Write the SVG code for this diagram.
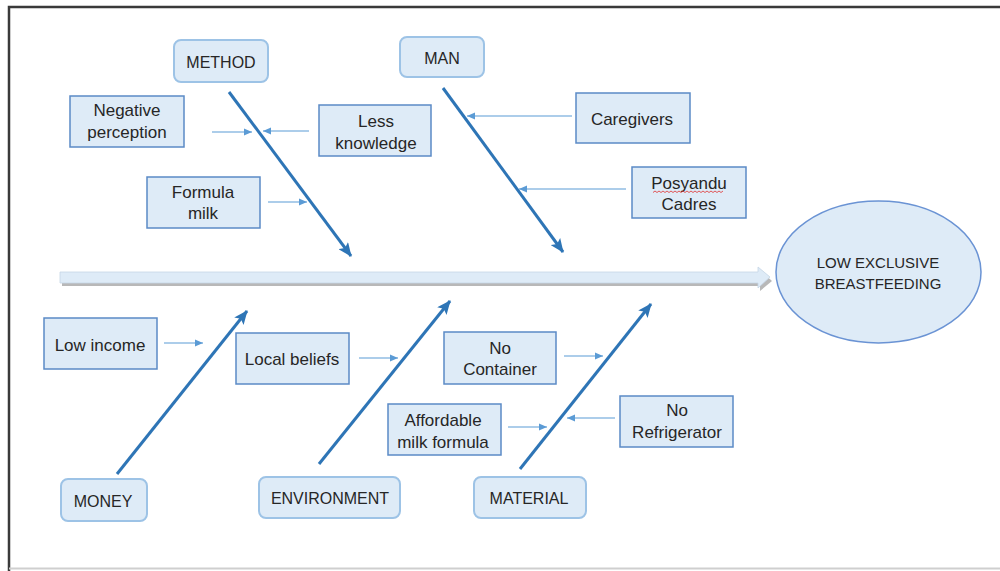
<svg xmlns="http://www.w3.org/2000/svg" width="1000" height="571" viewBox="0 0 1000 571">
<defs>
<marker id="bigHead" markerUnits="userSpaceOnUse" markerWidth="16" markerHeight="12" refX="13" refY="6" orient="auto">
<path d="M0,0 L14,6 L0,12 L3,6 Z" fill="#2e75b6"/>
</marker>
<marker id="smallHead" markerUnits="userSpaceOnUse" markerWidth="9" markerHeight="8" refX="8" refY="4" orient="auto">
<path d="M0,0.5 L8,4 L0,7.5 Z" fill="#5b9bd5"/>
</marker>
</defs>
<style>
.cat rect{fill:#deebf7;stroke:#9dc3e6;stroke-width:2}
.cause rect{fill:#deebf7;stroke:#5b8ac6;stroke-width:1.5}
text{font-family:"Liberation Sans",Arial,sans-serif;fill:#262626;text-anchor:middle}
.cat text{font-size:16px}
.cause text{font-size:17px}
.bone{stroke:#2e75b6;stroke-width:3;fill:none;marker-end:url(#bigHead)}
.sub{stroke:#5b9bd5;stroke-width:1.2;fill:none;marker-end:url(#smallHead)}
</style>
<rect width="1000" height="571" fill="#ffffff"/>
<!-- frame -->
<path d="M9,571 L9,7 L1000,7" fill="none" stroke="#3a3a3a" stroke-width="2.5"/>
<line x1="9" y1="568.5" x2="1000" y2="568.5" stroke="#cfcfcf" stroke-width="2"/>

<!-- spine -->
<g id="spine">
<path d="M62,275 L760,275 L760,270 L772,281 L760,291 L760,286 L62,286 Z" fill="#9a9a9a" opacity="0.7"/>
<path d="M60,272 L758,272 L758,267 L770,277 L758,288 L758,283 L60,283 Z" fill="#deebf7" stroke="#c5d5e6" stroke-width="0.8"/>
</g>

<g id="connectors">
<line class="bone" x1="229" y1="92" x2="351" y2="256"/>
<line class="bone" x1="443" y1="88" x2="563" y2="252"/>
<line class="bone" x1="117" y1="474" x2="247" y2="311"/>
<line class="bone" x1="319" y1="464" x2="450" y2="301"/>
<line class="bone" x1="520" y1="469" x2="651" y2="304"/>
<line class="sub" x1="212" y1="132" x2="252" y2="132"/>
<line class="sub" x1="309" y1="131" x2="263" y2="131"/>
<line class="sub" x1="268" y1="202" x2="307" y2="202"/>
<line class="sub" x1="572" y1="116" x2="467" y2="116"/>
<line class="sub" x1="626" y1="189" x2="519" y2="189"/>
<line class="sub" x1="164" y1="343" x2="203" y2="343"/>
<line class="sub" x1="359" y1="358" x2="398" y2="358"/>
<line class="sub" x1="564" y1="356" x2="603" y2="356"/>
<line class="sub" x1="508" y1="427" x2="547" y2="427"/>
<line class="sub" x1="615" y1="418" x2="567" y2="418"/>
</g>

<g id="method" class="cat"><rect x="174" y="40" width="94" height="42" rx="7"/><text x="221" y="68">METHOD</text></g>
<g id="man" class="cat"><rect x="400" y="37" width="84" height="40" rx="7"/><text x="442" y="64">MAN</text></g>
<g id="money" class="cat"><rect x="61" y="479" width="86" height="42" rx="7"/><text x="103" y="507">MONEY</text></g>
<g id="environment" class="cat"><rect x="259" y="477" width="141" height="41" rx="7"/><text x="330" y="504">ENVIRONMENT</text></g>
<g id="material" class="cat"><rect x="474" y="477" width="112" height="41" rx="7"/><text x="529" y="504">MATERIAL</text></g>

<g id="negative-perception" class="cause"><rect x="70" y="96" width="114" height="51"/><text x="127" y="116">Negative</text><text x="127" y="138">perception</text></g>
<g id="less-knowledge" class="cause"><rect x="319" y="105" width="112" height="51"/><text x="376" y="127">Less</text><text x="376" y="149">knowledge</text></g>
<g id="formula-milk" class="cause"><rect x="147" y="177" width="113" height="51"/><text x="203" y="198">Formula</text><text x="203" y="219">milk</text></g>
<g id="caregivers" class="cause"><rect x="576" y="93" width="114" height="50"/><text x="632" y="125">Caregivers</text></g>
<g id="posyandu-cadres" class="cause"><rect x="632" y="167" width="114" height="51"/><text x="689" y="189">Posyandu</text><text x="689" y="210">Cadres</text>
<path d="M653,192.5 l2,-1.5 l2,1.5 l2,-1.5 l2,1.5 l2,-1.5 l2,1.5 l2,-1.5 l2,1.5 l2,-1.5 l2,1.5 l2,-1.5 l2,1.5 l2,-1.5 l2,1.5 l2,-1.5 l2,1.5 l2,-1.5 l2,1.5 l2,-1.5 l2,1.5 l2,-1.5 l2,1.5 l2,-1.5 l2,1.5 l2,-1.5 l2,1.5 l2,-1.5 l2,1.5 l2,-1.5 l2,1.5 l2,-1.5 l2,1.5 l2,-1.5 l2,1.5 l2,-1.5" fill="none" stroke="#e03030" stroke-width="0.8"/></g>
<g id="low-income" class="cause"><rect x="44" y="318" width="113" height="51"/><text x="100" y="351">Low income</text></g>
<g id="local-beliefs" class="cause"><rect x="236" y="333" width="113" height="51"/><text x="292" y="365">Local beliefs</text></g>
<g id="no-container" class="cause"><rect x="444" y="332" width="112" height="52"/><text x="500" y="354">No</text><text x="500" y="375">Container</text></g>
<g id="affordable-milk-formula" class="cause"><rect x="388" y="404" width="113" height="51"/><text x="443" y="426">Affordable</text><text x="443" y="448">milk formula</text></g>
<g id="no-refrigerator" class="cause"><rect x="620" y="396" width="113" height="51"/><text x="677" y="416">No</text><text x="677" y="438">Refrigerator</text></g>

<g id="effect">
<ellipse cx="878.5" cy="272" rx="102.5" ry="71" fill="#deebf7" stroke="#6a93d4" stroke-width="1.5"/>
<text x="878" y="268" font-size="15">LOW EXCLUSIVE</text>
<text x="878" y="289" font-size="15">BREASTFEEDING</text>
</g>
</svg>
